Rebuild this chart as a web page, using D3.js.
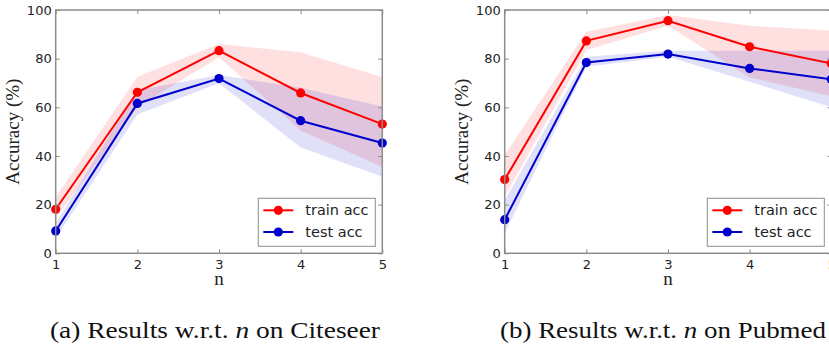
<!DOCTYPE html>
<html>
<head>
<meta charset="utf-8">
<script src="https://cdn.jsdelivr.net/npm/d3@7"></script>
<style>
  body { margin: 0; background: #fff; }
  svg { display: block; overflow: hidden; }
</style>
</head>
<body>
<div id="chart"></div>
<script>
// data
var ns = [1, 2, 3, 4, 5];
var yTicks = [0, 20, 40, 60, 80, 100];
var seriesNames = ['train acc', 'test acc'];

var citeseerTrain = [18.1, 66.2, 83.3, 65.9, 53.1];
var citeseerTrainLo = [14.4, 60.0, 80.6, 50.5, 35.5];
var citeseerTrainHi = [23.0, 72.6, 86.0, 82.6, 72.5];
var citeseerTest = [9.2, 61.6, 71.8, 54.5, 45.3];
var citeseerTestLo = [6.2, 57.0, 69.9, 43.5, 31.5];
var citeseerTestHi = [12.3, 67.0, 73.3, 68.0, 60.3];

var pubmedTrain = [30.3, 87.3, 95.6, 84.9, 78.0];
var pubmedTrainLo = [23.3, 83.6, 93.5, 72.3, 64.5];
var pubmedTrainHi = [40.4, 91.1, 97.9, 93.5, 91.5];
var pubmedTest = [13.8, 78.4, 81.9, 76.0, 71.5];
var pubmedTestLo = [8.2, 76.7, 80.8, 70.5, 60.0];
var pubmedTestHi = [21.9, 80.8, 83.3, 83.3, 83.3];

var captions = ['Citeseer', 'Pubmed'];

var W = 829, H = 351;
var red = '#ff0000', blue = '#0000cc';
var spineColor = '#8c8c8c';

var svg = d3.select('#chart').append('svg')
    .attr('width', W)
    .attr('height', H);

svg.append('rect').attr('width', W).attr('height', H).attr('fill', '#fff');

function drawPanel(left, train, trainLo, trainHi, test, testLo, testHi, label, tag) {
    var top = 10, bottom = 253.3, plotW = 326.6;

    var x = d3.scaleLinear().domain([1, 5]).range([left, left + plotW]);
    var y = d3.scaleLinear().domain([0, 100]).range([bottom, top]);

    var g = svg.append('g');

    // bands
    var area = d3.area()
        .x(function (d) { return x(d.n); })
        .y0(function (d) { return y(d.lo); })
        .y1(function (d) { return y(d.hi); });
    var line = d3.line()
        .x(function (d) { return x(d.n); })
        .y(function (d) { return y(d.v); });

    var series = [
        { name: seriesNames[0], color: red, v: train, lo: trainLo, hi: trainHi },
        { name: seriesNames[1], color: blue, v: test, lo: testLo, hi: testHi }
    ];
    series.forEach(function (s) {
        s.pts = ns.map(function (n, i) {
            return { n: n, v: s.v[i], lo: s.lo[i], hi: s.hi[i] };
        });
    });

    series.forEach(function (s) {
        g.append('path')
            .datum(s.pts)
            .attr('d', area)
            .attr('fill', s.color)
            .attr('fill-opacity', 0.12);
    });

    series.forEach(function (s) {
        g.append('path')
            .datum(s.pts)
            .attr('d', line)
            .attr('fill', 'none')
            .attr('stroke', s.color)
            .attr('stroke-width', 2);
        g.selectAll('.dot' + s.name.replace(' ', ''))
            .data(s.pts)
            .enter()
            .append('circle')
            .attr('cx', function (d) { return x(d.n); })
            .attr('cy', function (d) { return y(d.v); })
            .attr('r', 4.6)
            .attr('fill', s.color);
    });

    // frame
    g.append('rect')
        .attr('x', x(1)).attr('y', y(100))
        .attr('width', x(5) - x(1)).attr('height', y(0) - y(100))
        .attr('fill', 'none')
        .attr('stroke', spineColor)
        .attr('stroke-width', 1.5);

    // axes, ticks inward
    var xAxis = d3.axisBottom(x).tickValues(ns).tickFormat(d3.format('d')).tickSize(-4).tickPadding(6);
    var yAxis = d3.axisLeft(y).tickValues(yTicks).tickSize(-4).tickPadding(4);
    var xTop = d3.axisTop(x).tickValues(ns).tickFormat('').tickSize(-4);
    var yRight = d3.axisRight(y).tickValues(yTicks).tickFormat('').tickSize(-4);

    [[xAxis, 'translate(0,' + bottom + ')'], [yAxis, 'translate(' + left + ',0)'],
     [xTop, 'translate(0,' + top + ')'], [yRight, 'translate(' + (left + plotW) + ',0)']]
        .forEach(function (a) {
            var ag = g.append('g')
                .attr('transform', a[1])
                .call(a[0]);
            ag.select('.domain').remove();
            ag.selectAll('line').attr('stroke', spineColor);
            ag.selectAll('text')
                .attr('font-family', 'DejaVu Sans')
                .attr('font-size', 13)
                .attr('fill', '#222');
        });

    // axis labels
    g.append('text')
        .attr('transform', 'translate(' + (left - 37) + ',' + ((top + bottom) / 2) + ') rotate(-90)')
        .attr('text-anchor', 'middle')
        .attr('font-family', 'Liberation Serif')
        .attr('font-size', 19)
        .attr('fill', '#222')
        .text('Accuracy (%)');

    g.append('text')
        .attr('x', (x(1) + x(5)) / 2)
        .attr('y', bottom + 32)
        .attr('text-anchor', 'middle')
        .attr('font-family', 'Liberation Serif')
        .attr('font-size', 19)
        .attr('fill', '#222')
        .text('n');

    // legend
    var lgX = x(5) - 124, lgY = y(0) - 55;
    var lg = g.append('g').attr('transform', 'translate(' + lgX + ',' + lgY + ')');
    lg.append('rect')
        .attr('width', 117).attr('height', 48)
        .attr('fill', '#fff')
        .attr('stroke', spineColor)
        .attr('stroke-width', 1);
    series.forEach(function (s, i) {
        var ry = 12 + i * 21.7;
        lg.append('line')
            .attr('x1', 5).attr('x2', 35)
            .attr('y1', ry).attr('y2', ry)
            .attr('stroke', s.color).attr('stroke-width', 2);
        lg.append('circle')
            .attr('cx', 20).attr('cy', ry).attr('r', 4.6)
            .attr('fill', s.color);
        lg.append('text')
            .attr('x', 47).attr('y', ry)
            .attr('dy', '0.35em')
            .attr('font-family', 'DejaVu Sans')
            .attr('font-size', 14.5)
            .attr('fill', '#222')
            .text(s.name);
    });

    // caption
    var cap = svg.append('text')
        .attr('x', tag === 'a' ? 50 : 500)
        .attr('y', 338)
        .attr('textLength', tag === 'a' ? 330 : 326)
        .attr('lengthAdjust', 'spacingAndGlyphs')
        .attr('font-family', 'Liberation Serif')
        .attr('font-size', 23)
        .attr('fill', '#111');
    cap.append('tspan').text('(' + tag + ') Results w.r.t. ');
    cap.append('tspan').attr('font-style', 'italic').text('n');
    cap.append('tspan').text(' on ' + label);
}

drawPanel(55.7, citeseerTrain, citeseerTrainLo, citeseerTrainHi,
    citeseerTest, citeseerTestLo, citeseerTestHi, captions[0], 'a');
drawPanel(504.7, pubmedTrain, pubmedTrainLo, pubmedTrainHi,
    pubmedTest, pubmedTestLo, pubmedTestHi, captions[1], 'b');
</script>
</body>
</html>
